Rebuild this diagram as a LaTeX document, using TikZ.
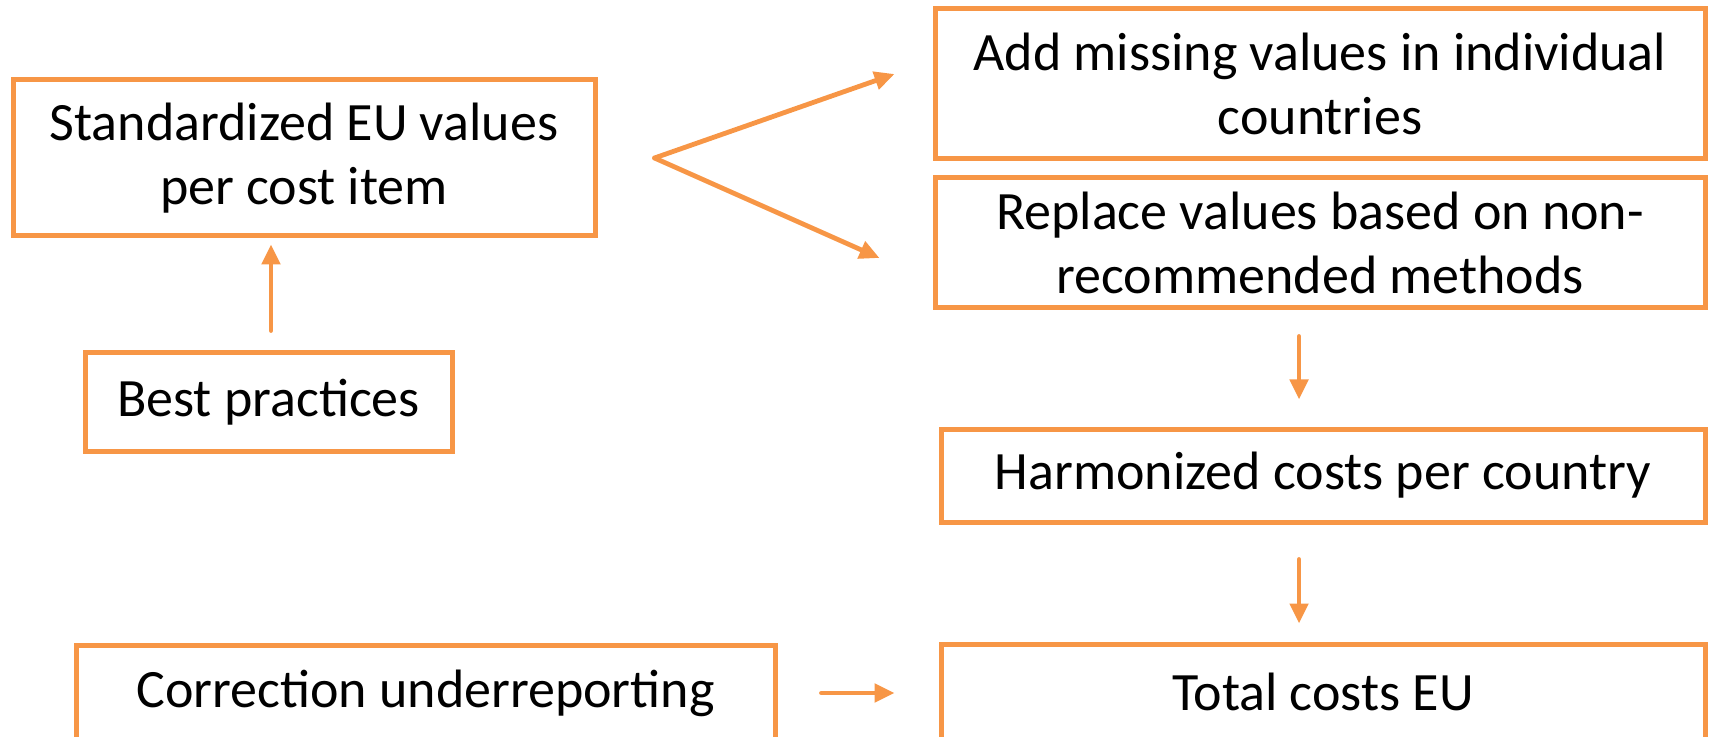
\documentclass[tikz,border=0pt]{standalone}
\usepackage{fontspec}
\setmainfont{Carlito}
\usepackage{tikz}
\usetikzlibrary{arrows.meta}
\definecolor{boxorange}{HTML}{F79646}
\tikzset{
  box/.style={draw=boxorange, line width=2.5pt, align=center, inner sep=0pt,
    font=\fontsize{27}{32}\selectfont},
  arr/.style={draw=boxorange, line width=2.4pt, line cap=round,
    -{Triangle[length=10pt, width=9pt]}}
}

\begin{document}
\begin{tikzpicture}[x=0.5pt, y=-0.5pt]
\useasboundingbox (0, 0) rectangle (1712, 737);
\node[box, minimum width=291pt, minimum height=78pt] (std) at (304, 158) {Standardized EU values\\per cost item};
\node[box, minimum width=183.5pt, minimum height=49pt] (best) at (268.5, 402) {Best practices};
\node[box, minimum width=385pt, minimum height=75pt] (add) at (1320, 84) {Add missing values in individual\\countries};
\node[box, minimum width=385pt, minimum height=65pt] (repl) at (1320, 243) {Replace values based on non-\\recommended methods};
\node[box, minimum width=382pt, minimum height=46.5pt] (harm) at (1323, 475.5) {Harmonized costs per country};
\node[box, minimum width=382pt, minimum height=48pt] (total) at (1323, 692) {Total costs EU};
\node[box, minimum width=349.5pt, minimum height=48pt] (corr) at (425.5, 693) {Correction underreporting};
\coordinate (fork) at ([xshift=28.5pt]std.east);
\coordinate (addin) at ([xshift=-19pt, yshift=5pt]add.west);
\coordinate (replin) at ([xshift=-26.5pt, yshift=-7.5pt]repl.west);
\draw[arr] ([xshift=1.25pt, yshift=10pt]best.north) to ([xshift=1.25pt, yshift=-3pt]best.north |- std.south);
\draw[arr] (fork) to (addin);
\draw[arr] (fork) to (replin);
\draw[arr] ([xshift=-12pt, yshift=-13pt]harm.north |- repl.south) to ([xshift=-12pt, yshift=13.5pt]harm.north);
\draw[arr] ([xshift=-12pt, yshift=-17.5pt]harm.south) to ([xshift=-12pt, yshift=9pt]total.north);
\draw[arr] ([xshift=22pt]corr.east) to ([xshift=-22pt]corr.east -| total.west);
\end{tikzpicture}
\end{document}
